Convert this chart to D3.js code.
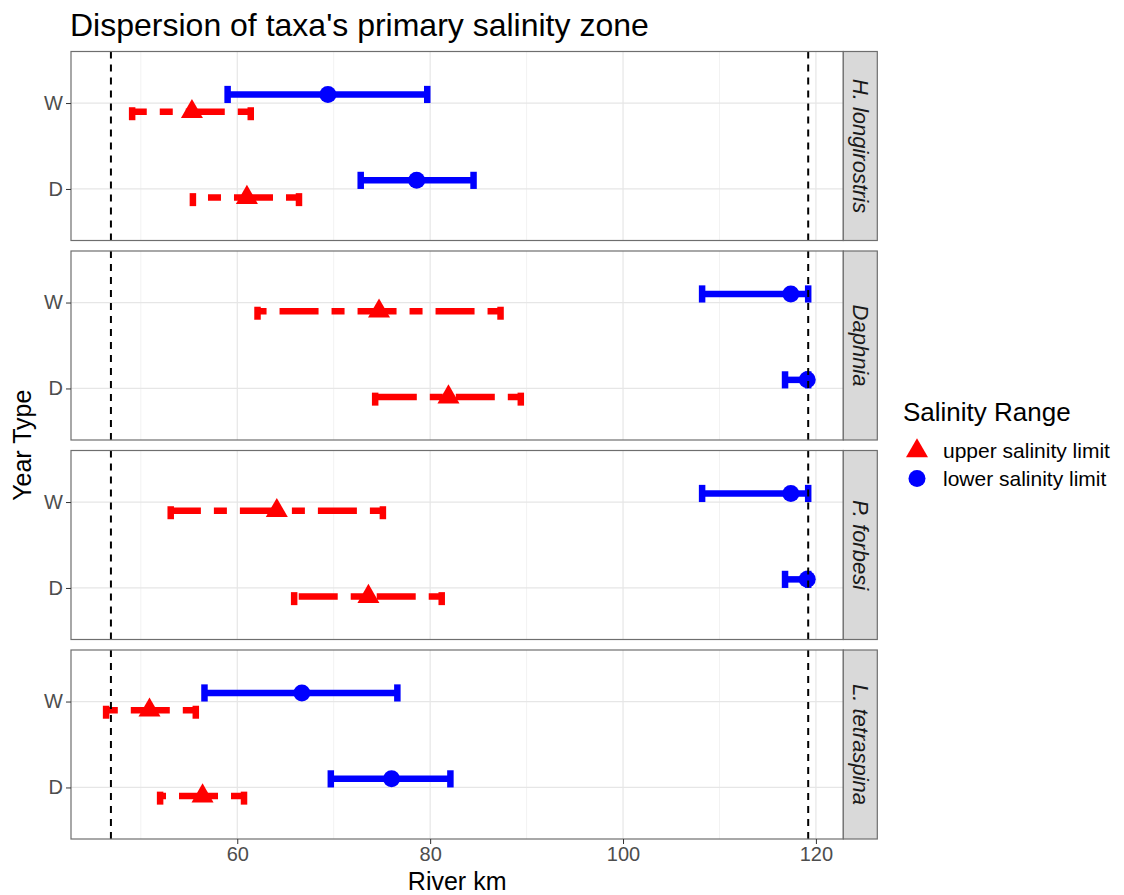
<!DOCTYPE html>
<html>
<head>
<meta charset="utf-8">
<script src="https://d3js.org/d3.v7.min.js"></script>
<style>
  body { margin: 0; background: #fff; }
  text { font-family: "Liberation Sans", Arial, sans-serif; }
</style>
</head>
<body>
<div id="chart"></div>
<script>
// data: one row per taxon, values in order [W, D]
var taxa = ["H. longirostris", "Daphnia", "P. forbesi", "L. tetraspina"];
var yearTypes = ["W", "D"];
var limitNames = ["upper salinity limit", "lower salinity limit"];

var upperMin = [[49.1, 55.4], [62.1, 74.3], [53.1, 65.9], [46.4, 52.0]];
var upperMid = [[55.3, 61.0], [74.7, 81.9], [64.1, 73.6], [50.9, 56.4]];
var upperMax = [[61.4, 66.4], [87.3, 89.4], [75.1, 81.2], [55.7, 60.7]];

var lowerMin = [[59.0, 72.8], [108.2, 116.8], [108.2, 116.8], [56.6, 69.7]];
var lowerMid = [[69.4, 78.6], [117.4, 119.1], [117.4, 119.1], [66.7, 76.0]];
var lowerMax = [[79.7, 84.5], [119.2, 119.2], [119.2, 119.2], [76.6, 82.1]];

var refLines = [46.9, 119.2];
var xTicks = [60, 80, 100, 120];
var xMinor = [50, 70, 90, 110];

function createChart() {
  var W = 1124, H = 895;
  var panel = { left: 71, right: 843.3, top: 51.5, height: 189, gap: 10.5 },
    stripW = 34;

  var svg = d3.select("#chart").append("svg")
    .attr("width", W)
    .attr("height", H);

  // flatten into rows
  var rows = [];
  taxa.forEach(function (t, i) {
    yearTypes.forEach(function (yt, j) {
      rows.push({ taxon: t, year: yt, limit: limitNames[0], lo: upperMin[i][j], mid: upperMid[i][j], hi: upperMax[i][j] });
      rows.push({ taxon: t, year: yt, limit: limitNames[1], lo: lowerMin[i][j], mid: lowerMid[i][j], hi: lowerMax[i][j] });
    });
  });

  // x scale with ggplot style 5% expansion
  var allX = rows.map(d => d.lo).concat(rows.map(d => d.hi), refLines);
  var ext = d3.extent(allX), pad = (ext[1] - ext[0]) * 0.05;
  var x = d3.scaleLinear()
    .domain([ext[0] - pad, ext[1] + pad])
    .range([panel.left, panel.right]);

  var color = d3.scaleOrdinal().domain(limitNames).range(["#ff0000", "#0000ff"]);
  var dodge = d3.scaleOrdinal().domain(limitNames).range([0.1, -0.1]);

  // title
  svg.append("text")
    .attr("x", 70).attr("y", 36)
    .attr("font-size", 32)
    .attr("fill", "#000")
    .text("Dispersion of taxa's primary salinity zone");

  var lw = 6.5;

  taxa.forEach(function (t, i) {
    var top = panel.top + i * (panel.height + panel.gap);
    var y = d3.scalePoint().domain(yearTypes).range([top, top + panel.height]).padding(0.6);
    var step = y.step();
    var g = svg.append("g");

    // grid
    g.selectAll(".minor").data(xMinor).enter().append("line")
      .attr("x1", d => x(d)).attr("x2", d => x(d))
      .attr("y1", top).attr("y2", top + panel.height)
      .attr("stroke", "#f2f2f2").attr("stroke-width", 1);
    g.selectAll(".major").data(xTicks).enter().append("line")
      .attr("x1", d => x(d)).attr("x2", d => x(d))
      .attr("y1", top).attr("y2", top + panel.height)
      .attr("stroke", "#e6e6e6").attr("stroke-width", 1.2);
    g.selectAll(".hgrid").data(yearTypes).enter().append("line")
      .attr("x1", panel.left).attr("x2", panel.right)
      .attr("y1", d => y(d)).attr("y2", d => y(d))
      .attr("stroke", "#e6e6e6").attr("stroke-width", 1.2);

    var sub = rows.filter(d => d.taxon === t);

    // error bars: right cap, bar (right to left), left cap, each its own path
    sub.forEach(function (d) {
      var cy = y(d.year) + dodge(d.limit) * step,
        half = 0.1 * step;
      var dash = d.limit === limitNames[0] ? [2, 2, 6, 2].map(v => v * lw).join(",") : null;
      var segs = [
        [[x(d.hi), cy + half], [x(d.hi), cy - half]],
        [[x(d.hi), cy], [x(d.lo), cy]],
        [[x(d.lo), cy + half], [x(d.lo), cy - half]]
      ];
      segs.forEach(function (s) {
        g.append("path")
          .attr("d", d3.line()(s))
          .attr("fill", "none")
          .attr("stroke", color(d.limit))
          .attr("stroke-width", lw)
          .attr("stroke-dasharray", dash);
      });
    });

    // points
    sub.forEach(function (d) {
      var cy = y(d.year) + dodge(d.limit) * step;
      if (d.limit === limitNames[0]) {
        g.append("path")
          .attr("d", d3.symbol(d3.symbolTriangle, 210)())
          .attr("transform", "translate(" + x(d.mid) + "," + cy + ")")
          .attr("fill", color(d.limit));
      } else {
        g.append("circle")
          .attr("cx", x(d.mid)).attr("cy", cy).attr("r", 8.5)
          .attr("fill", color(d.limit));
      }
    });

    // reference lines
    g.selectAll(".ref").data(refLines).enter().append("line")
      .attr("x1", d => x(d)).attr("x2", d => x(d))
      .attr("y1", top).attr("y2", top + panel.height)
      .attr("stroke", "#000").attr("stroke-width", 2)
      .attr("stroke-dasharray", "7,6");

    // border
    g.append("rect")
      .attr("x", panel.left).attr("y", top)
      .attr("width", panel.right - panel.left).attr("height", panel.height)
      .attr("fill", "none").attr("stroke", "#6e6e6e").attr("stroke-width", 1.2);

    // strip
    g.append("rect")
      .attr("x", panel.right).attr("y", top)
      .attr("width", stripW).attr("height", panel.height)
      .attr("fill", "#d9d9d9").attr("stroke", "#6e6e6e").attr("stroke-width", 1.2);
    g.append("text")
      .attr("transform", "translate(" + (panel.right + stripW / 2) + "," + (top + panel.height / 2) + ") rotate(90)")
      .attr("text-anchor", "middle")
      .attr("dy", "0.35em")
      .attr("font-size", 22)
      .attr("font-style", "italic")
      .attr("fill", "#1a1a1a")
      .text(t);

    // y axis
    var yAxis = d3.axisLeft(y).tickSize(5).tickPadding(3);
    var ya = svg.append("g")
      .attr("transform", "translate(" + panel.left + ",0)")
      .call(yAxis);
    ya.select(".domain").remove();
    ya.selectAll("line").attr("stroke", "#333");
    ya.selectAll("text").attr("font-size", 20).attr("fill", "#4d4d4d")
      .style("font-family", "'Liberation Sans', Arial, sans-serif");
  });

  // x axis under bottom panel
  var bottom = panel.top + 3 * (panel.height + panel.gap) + panel.height;
  var xa = svg.append("g")
    .attr("transform", "translate(0," + bottom + ")")
    .call(d3.axisBottom(x).tickValues(xTicks).tickSize(5).tickPadding(3));
  xa.select(".domain").remove();
  xa.selectAll("line").attr("stroke", "#333");
  xa.selectAll("text").attr("font-size", 20).attr("fill", "#4d4d4d")
    .style("font-family", "'Liberation Sans', Arial, sans-serif");

  // axis titles
  svg.append("text")
    .attr("x", (panel.left + panel.right) / 2).attr("y", 890)
    .attr("text-anchor", "middle")
    .attr("font-size", 25)
    .text("River km");
  svg.append("text")
    .attr("transform", "translate(31," + (panel.top + (4 * panel.height + 3 * panel.gap) / 2) + ") rotate(-90)")
    .attr("text-anchor", "middle")
    .attr("font-size", 25)
    .text("Year Type");

  // legend
  var leg = svg.append("g").attr("transform", "translate(903,0)");
  leg.append("text")
    .attr("x", 0).attr("y", 421)
    .attr("font-size", 26)
    .text("Salinity Range");
  var items = leg.selectAll(".item").data(limitNames).enter().append("g")
    .attr("transform", (d, i) => "translate(14," + (451 + i * 27.5) + ")");
  items.each(function (d, i) {
    var it = d3.select(this);
    if (i === 0) {
      it.append("path").attr("d", d3.symbol(d3.symbolTriangle, 210)()).attr("fill", color(d));
    } else {
      it.append("circle").attr("r", 8.5).attr("fill", color(d));
    }
  });
  items.append("text")
    .attr("x", 26).attr("dy", "0.35em")
    .attr("font-size", 21)
    .text(d => d);
}

createChart();
</script>
</body>
</html>
